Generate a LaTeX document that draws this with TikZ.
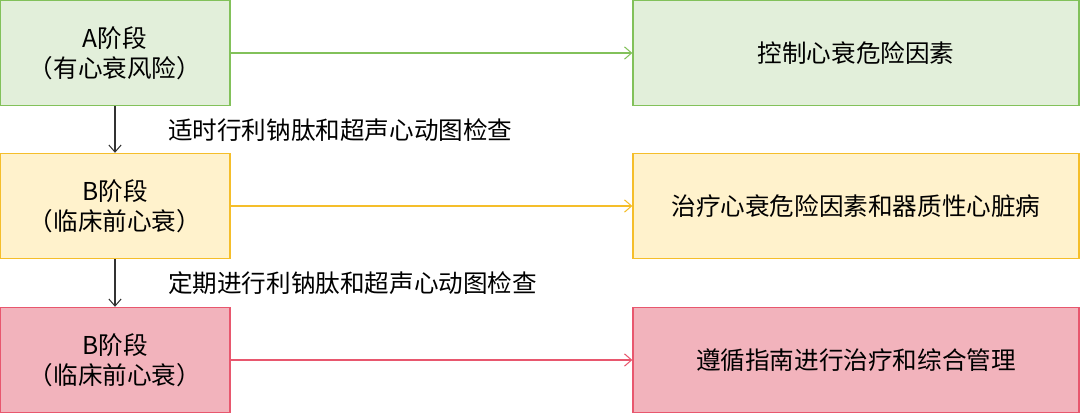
\documentclass[tikz,border=0pt]{standalone}
\usepackage{fontspec}
\setmainfont{Noto Sans CJK SC}
\usetikzlibrary{arrows.meta}
\definecolor{gfill}{HTML}{E2EFDA}
\definecolor{gline}{HTML}{82C15A}
\definecolor{yfill}{HTML}{FFF2CC}
\definecolor{yline}{HTML}{F5BE2A}
\definecolor{rfill}{HTML}{F2B3BC}
\definecolor{rline}{HTML}{E8576E}
\tikzset{
    stage/.style = {draw, rectangle, line width=0.8pt, minimum width=4.6cm,
        minimum height=2.1cm, align=center, font=\fontsize{14}{17}\selectfont},
    action/.style = {stage, minimum width=8.92cm},
    link/.style = {-{Straight Barb[length=4pt,width=7pt]}, line width=0.6pt},
    note/.style = {anchor=west, font=\fontsize{14}{16}\selectfont}
}
\begin{document}
\begin{tikzpicture}[x=0.02cm,y=-0.02cm]
\useasboundingbox (0,0) rectangle (1080,414);
% left column
\node [stage, fill=gfill, draw=gline] (sa) at (115,53) {A阶段\\（有心衰风险）};
\node [stage, fill=yfill, draw=yline] (sb) at (115,206) {B阶段\\（临床前心衰）};
\node [stage, fill=rfill, draw=rline] (sc) at (115,360) {B阶段\\（临床前心衰）};
% right column
\node [action, fill=gfill, draw=gline] (ta) at (856,53) {控制心衰危险因素};
\node [action, fill=yfill, draw=yline] (tb) at (856,206) {治疗心衰危险因素和器质性心脏病};
\node [action, fill=rfill, draw=rline] (tc) at (856,360) {遵循指南进行治疗和综合管理};
\draw [link, gline] (sa) -- (ta);
\draw [link, yline] (sb) -- (tb);
\draw [link, rline] (sc) -- (tc);
\draw [link, black!80] (sa) -- (sb);
\draw [link, black!80] (sb) -- (sc);
\node [note] (na) at (162,130) {适时行利钠肽和超声心动图检查};
\node [note] (nb) at (162,283) {定期进行利钠肽和超声心动图检查};
\end{tikzpicture}
\end{document}
